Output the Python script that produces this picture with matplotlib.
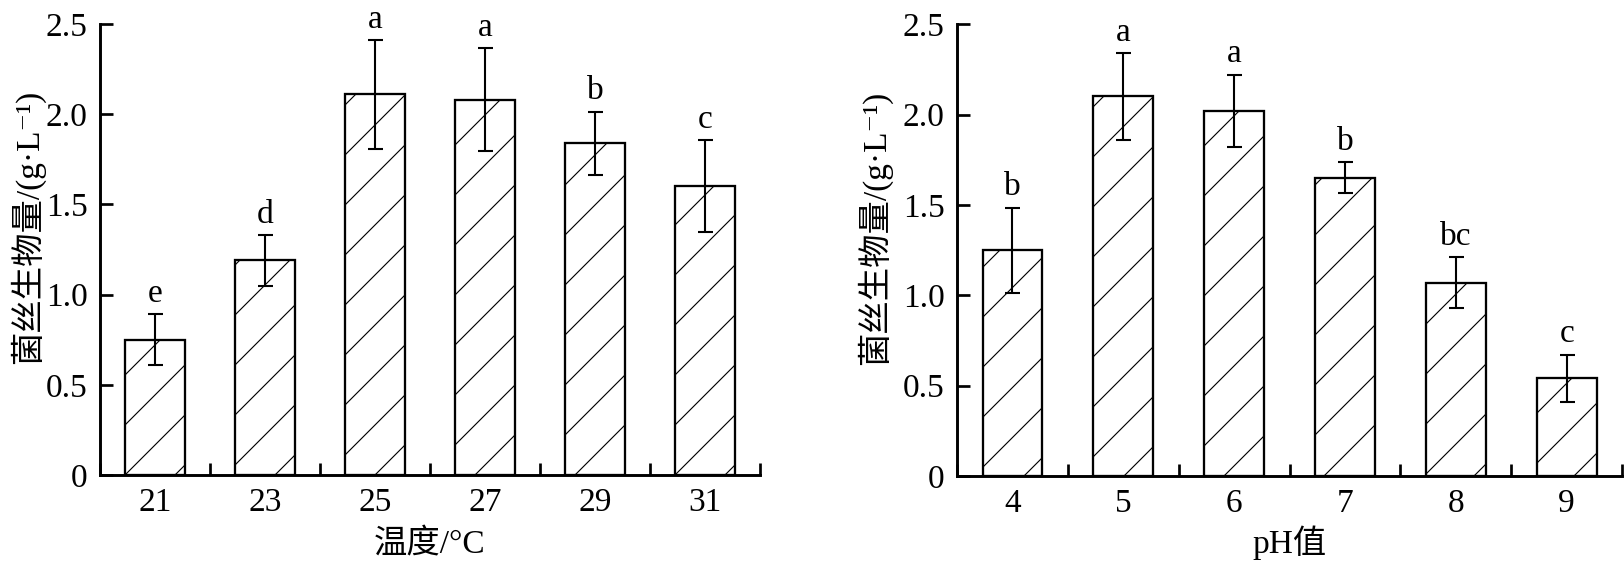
import numpy as np
import matplotlib
matplotlib.use("Agg")
import matplotlib.pyplot as plt

plt.rcParams['font.family'] = ['Liberation Serif', 'Noto Sans CJK SC', 'DejaVu Serif']
plt.rcParams['hatch.linewidth'] = 0.55
plt.rcParams['font.size'] = 16

# 温度
temp_labels = ['21', '23', '25', '27', '29', '31']
temp_vals = [0.75, 1.19, 2.11, 2.08, 1.84, 1.60]
temp_err = [0.14, 0.14, 0.30, 0.285, 0.175, 0.255]
temp_sig = ['e', 'd', 'a', 'a', 'b', 'c']

# pH
ph_labels = ['4', '5', '6', '7', '8', '9']
ph_vals = [1.25, 2.10, 2.02, 1.65, 1.07, 0.54]
ph_err = [0.235, 0.24, 0.20, 0.087, 0.14, 0.13]
ph_sig = ['b', 'a', 'a', 'b', 'bc', 'c']

y_ticks = [0, 0.5, 1.0, 1.5, 2.0, 2.5]
y_ticklabels = ['0', '0.5', '1.0', '1.5', '2.0', '2.5']
ylabel = '菌丝生物量/(g·L\u207b\u00b9)'


def draw(ax, labels, vals, err, sig, xlabel, label_x):
    x = np.arange(len(labels))
    ax.bar(x, vals, width=0.54, color='white', edgecolor='black',
           linewidth=1.1, hatch='/', zorder=2)
    ax.errorbar(x, vals, yerr=err, fmt='none', ecolor='black',
                elinewidth=1.0, capsize=3.6, capthick=1.0, zorder=3)
    for xi, v, e, s in zip(x, vals, err, sig):
        ax.text(xi, v + e + 0.03, s, ha='center', va='bottom', fontsize=16)
    ax.set_xlim(-0.5, len(labels) - 0.5)
    ax.set_ylim(0, 2.5)
    ax.set_xticks(x)
    ax.set_xticklabels(labels)
    ax.set_xticks(np.arange(-0.5, len(labels), 1.0), minor=True)
    ax.set_yticks(y_ticks)
    ax.set_yticklabels(y_ticklabels)
    ax.tick_params(axis='x', which='major', length=0, pad=6, labelsize=16)
    ax.tick_params(axis='x', which='minor', direction='in', length=5.8, width=1.3)
    ax.tick_params(axis='y', direction='in', length=6.2, width=1.3, pad=6, labelsize=16)
    for sp in ['top', 'right']:
        ax.spines[sp].set_visible(False)
    for sp in ['left', 'bottom']:
        ax.spines[sp].set_linewidth(1.4)
    # x label placed by its baseline, like the reference
    ax.set_xlabel(xlabel, fontsize=16, va='baseline')
    ax.xaxis.set_label_coords(0.5, -0.171)
    ax.set_ylabel(ylabel, fontsize=16)
    ax.yaxis.set_label_coords(label_x, 0.55)


fig = plt.figure(figsize=(1624 / 150, 561 / 150), dpi=150)
ax1 = fig.add_axes([0.0616, 0.1533, 0.4064, 0.8037])
ax2 = fig.add_axes([0.5893, 0.1515, 0.4095, 0.8055])

draw(ax1, temp_labels, temp_vals, temp_err, temp_sig, '温度/°C', -0.083)
draw(ax2, ph_labels, ph_vals, ph_err, ph_sig, 'pH值', -0.098)

fig.savefig('out.png', dpi=150)
